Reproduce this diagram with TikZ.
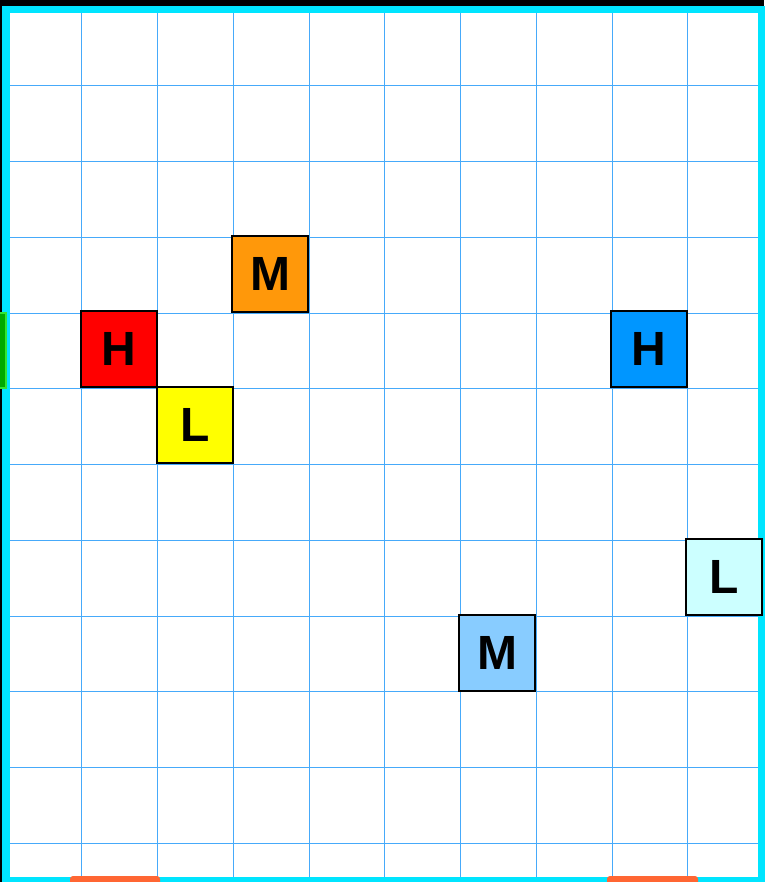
\documentclass[tikz,border=0pt]{standalone}
\usepackage{fontspec}
\setmainfont{Liberation Sans}
\definecolor{gridc}{RGB}{70,170,250}
\definecolor{framec}{RGB}{0,229,255}
\definecolor{orangebox}{RGB}{255,152,10}
\definecolor{redbox}{RGB}{255,0,0}
\definecolor{yellowbox}{RGB}{255,255,0}
\definecolor{bluebox}{RGB}{0,150,255}
\definecolor{lightbluebox}{RGB}{136,204,255}
\definecolor{cyanbox}{RGB}{204,255,255}
\definecolor{tabgreen}{RGB}{0,170,0}
\definecolor{tabgreenedge}{RGB}{50,230,50}
\definecolor{barorange}{RGB}{255,102,51}
\tikzset{
  gridline/.style={draw=gridc, line width=1pt},
  framestyle/.style={draw=framec, line width=7.5pt},
  cell/.style={draw=black, line width=2pt, minimum size=76pt, inner sep=0pt,
    font=\fontsize{48}{48}\selectfont\bfseries, text=black},
  bar/.style={fill=barorange, rounded corners=3pt}
}
\begin{document}
\begin{tikzpicture}[x=1pt,y=-1pt]
\fill[black] (0,0) rectangle (764,882);
\useasboundingbox (0,0) rectangle (764,882);
\fill[white] (6,9.5) rectangle (764,882);
\foreach \i in {1,...,9} {\draw[gridline] ({6+75.75*\i},9.5) -- ({6+75.75*\i},882);}
\foreach \j in {1,...,11} {\draw[gridline] (6,{10+75.75*\j}) -- (764,{10+75.75*\j});}
\draw[framestyle] (6,9.5) rectangle (762,881);
\node[cell, fill=orangebox] (m1) at (270.3,273.7) {M};
\node[cell, fill=redbox] (h1) at (119,349.3) {H};
\node[cell, fill=yellowbox] (l1) at (194.8,425.2) {L};
\node[cell, fill=bluebox] (h2) at (648.5,349) {H};
\node[cell, fill=lightbluebox] (m2) at (497.3,652.7) {M};
\node[cell, fill=cyanbox] (l2) at (724,577) {L};
\filldraw[fill=tabgreen, draw=tabgreenedge, line width=2pt] (-3,313) rectangle (6,388);
\fill[bar] (70,876) rectangle (160,886);
\fill[bar] (607,876) rectangle (698,886);
\end{tikzpicture}
\end{document}
